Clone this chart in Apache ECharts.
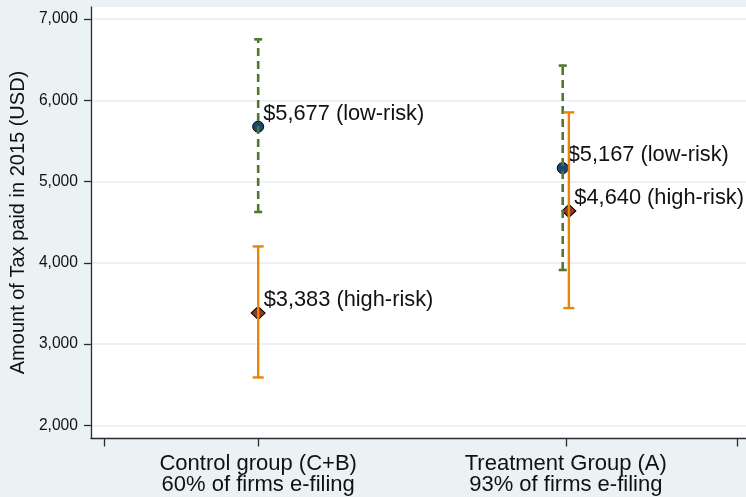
<!DOCTYPE html>
<html>
<head>
<meta charset="utf-8">
<script src="https://cdn.jsdelivr.net/npm/echarts@6/dist/echarts.min.js"></script>
<style>
html,body{margin:0;padding:0;background:#eaf2f3;}
#chart{width:746px;height:497px;}
</style>
</head>
<body>
<div id="chart"></div>
<script>
// ---- data ----
var groupLabels = ['Control group (C+B)\n60% of firms e-filing', 'Treatment Group (A)\n93% of firms e-filing'];
var groupX = [1, 2];
var lowRiskX = [1, 1.99];
var highRiskX = [1, 2.01];
var lowRiskMean = [5677, 5167];
var lowRiskLow = [4627, 3913];
var lowRiskHigh = [6752, 6429];
var highRiskMean = [3383, 4640];
var highRiskLow = [2590, 3444];
var highRiskHigh = [4203, 5853];
var yTicks = [2000, 3000, 4000, 5000, 6000, 7000];
var xTicks = [0.5, 1, 2, 2.558];

var FONT = '"Liberation Sans", Arial, sans-serif';

function fmt(v) { return v.toLocaleString('en-US'); }

function pts(xs, ys) { return xs.map(function (x, i) { return [x, ys[i]]; }); }
function bars(xs, lo, hi) { return xs.map(function (x, i) { return [x, lo[i], hi[i]]; }); }

function capRender(color, dash, capW, width) {
  return function (params, api) {
    var x = api.value(0);
    var pLo = api.coord([x, api.value(1)]);
    var pHi = api.coord([x, api.value(2)]);
    var st = { stroke: color, lineWidth: width };
    var dst = { stroke: color, lineWidth: width, lineDash: dash };
    return {
      type: 'group',
      children: [
        { type: 'line', shape: { x1: pLo[0], y1: pLo[1], x2: pHi[0], y2: pHi[1] }, style: dst },
        { type: 'line', shape: { x1: pHi[0] - capW / 2, y1: pHi[1], x2: pHi[0] + capW / 2, y2: pHi[1] }, style: st },
        { type: 'line', shape: { x1: pLo[0] - capW / 2, y1: pLo[1], x2: pLo[0] + capW / 2, y2: pLo[1] }, style: st }
      ]
    };
  };
}

var chart = echarts.init(document.getElementById('chart'));
chart.setOption({
  backgroundColor: '#eaf2f3',
  animation: false,
  grid: { left: 88, top: 7, right: 0, bottom: 59, show: true, backgroundColor: '#ffffff', borderWidth: 0 },
  xAxis: {
    type: 'value',
    min: 0.4563, max: 2.5858,
    axisLine: { show: true, lineStyle: { color: '#2b2b2b', width: 1.3 } },
    axisTick: { show: true, length: 8.5, customValues: xTicks, lineStyle: { color: '#2b2b2b', width: 1.3 } },
    axisLabel: {
      customValues: groupX,
      margin: 15,
      color: '#111', fontFamily: FONT, fontSize: 22, lineHeight: 21.5,
      formatter: function (v) { var i = groupX.indexOf(v); return i >= 0 ? groupLabels[i] : ''; }
    },
    splitLine: { show: false }
  },
  yAxis: {
    type: 'value',
    min: 1845, max: 7150,
    name: 'Amount of Tax paid in 2015 (USD)',
    nameLocation: 'middle', nameRotate: 90, nameGap: 59,
    nameTextStyle: { color: '#111', fontFamily: FONT, fontSize: 20 },
    axisLine: { show: true, lineStyle: { color: '#2b2b2b', width: 1.3 } },
    axisTick: { show: true, length: 7, customValues: yTicks, lineStyle: { color: '#2b2b2b', width: 1.3 } },
    axisLabel: { customValues: yTicks, margin: 13, color: '#111', fontFamily: FONT, fontSize: 15.6, formatter: function (v) { return fmt(v); } },
    splitLine: { show: true, lineStyle: { color: '#e6eef0', width: 1.5 } }
  },
  series: [
    {
      type: 'scatter', name: 'low-risk', symbol: 'circle', symbolSize: 11,
      itemStyle: { color: '#1a476f', borderColor: '#000', borderWidth: 1, opacity: 1 },
      data: pts(lowRiskX, lowRiskMean),
      label: { show: true, position: 'inside', align: 'left', verticalAlign: 'middle', offset: [5, -13],
        color: '#111', fontFamily: FONT, fontSize: 21.8,
        formatter: function (p) { return '$' + fmt(p.value[1]) + ' (low-risk)'; } },
      z: 2
    },
    {
      type: 'scatter', name: 'high-risk', symbol: 'diamond', symbolSize: [14, 13],
      itemStyle: { color: '#93361f', borderColor: '#000', borderWidth: 1, opacity: 1 },
      data: pts(highRiskX, highRiskMean),
      label: { show: true, position: 'inside', align: 'left', verticalAlign: 'middle', offset: [5.5, -13],
        color: '#111', fontFamily: FONT, fontSize: 21.8,
        formatter: function (p) { return '$' + fmt(p.value[1]) + ' (high-risk)'; } },
      z: 2
    },
    {
      type: 'custom', name: 'low-risk CI',
      renderItem: capRender('#55752f', [8, 5], 8, 2.6),
      data: bars(lowRiskX, lowRiskLow, lowRiskHigh),
      encode: { x: 0, y: [1, 2] }, z: 3
    },
    {
      type: 'custom', name: 'high-risk CI',
      renderItem: capRender('#e8840a', null, 11, 2.4),
      data: bars(highRiskX, highRiskLow, highRiskHigh),
      encode: { x: 0, y: [1, 2] }, z: 3
    }
  ]
});
</script>
</body>
</html>
